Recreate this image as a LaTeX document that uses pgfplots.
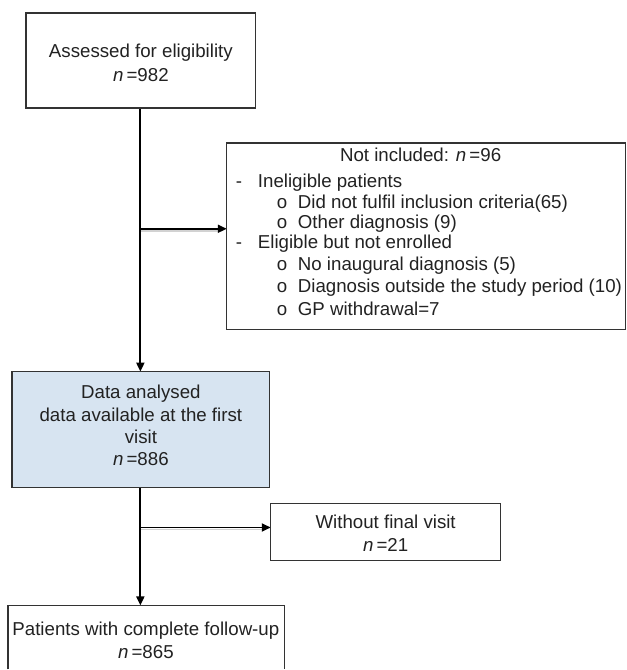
\documentclass[border=0pt]{standalone}
\usepackage{fontspec}
\setmainfont{Liberation Sans}
\usepackage{pgfplots}
\pgfplotsset{compat=1.18}
\usetikzlibrary{arrows.meta}
\definecolor{boxblue}{HTML}{D7E4F1}
\definecolor{boxline}{HTML}{333333}
\definecolor{txt}{HTML}{222222}
\begin{document}
\begin{tikzpicture}
\begin{axis}[
  width=627bp, height=670bp, scale only axis,
  xmin=0, xmax=627, ymin=0, ymax=670, y dir=reverse,
  hide axis, clip=false,
]
\path (axis cs:0,0) rectangle (axis cs:627,670);
\tikzset{
  bx/.style={draw=boxline, line width=1.3bp},
  ar/.style={draw=black, line width=1.8bp, -{Triangle[length=9bp,width=8bp]}},
  sh/.style={draw=gray!35, line width=1.8bp},
  t/.style={font=\fontsize{18.7bp}{22bp}\selectfont, text=txt, inner sep=0pt, anchor=mid},
  tl/.style={t, anchor=mid west},
}
% connectors (drawn first)
\draw[sh] (axis cs:141,231) -- (axis cs:219,231);
\draw[sh] (axis cs:141,530) -- (axis cs:262,530);
\draw[ar] (axis cs:140.5,108) -- (axis cs:140.5,372);
\draw[ar] (axis cs:140.5,229) -- (axis cs:227,229);
\draw[ar] (axis cs:140.5,488) -- (axis cs:140.5,606);
\draw[ar] (axis cs:140.5,528) -- (axis cs:271,528);
% box 1
\draw[bx, fill=white] (axis cs:26,13) rectangle (axis cs:256,108);
\node[t] at (axis cs:141,55) {Assessed for eligibility};
\node[t] at (axis cs:141,79) {\textit{n}\,=982};
% box 2
\draw[bx, fill=white] (axis cs:227,143) rectangle (axis cs:626,330);
\node[t] at (axis cs:421,159) {Not included: \textit{n}\,=96};
\node[tl] at (axis cs:236,185) {-};
\node[tl] at (axis cs:258,185) {Ineligible patients};
\node[tl] at (axis cs:277,206) {o};
\node[tl] at (axis cs:298,206) {Did not fulfil inclusion criteria(65)};
\node[tl] at (axis cs:277,226) {o};
\node[tl] at (axis cs:298,226) {Other diagnosis (9)};
\node[tl] at (axis cs:236,246) {-};
\node[tl] at (axis cs:258,246) {Eligible but not enrolled};
\node[tl] at (axis cs:277,268) {o};
\node[tl] at (axis cs:298,268) {No inaugural diagnosis (5)};
\node[tl] at (axis cs:277,290) {o};
\node[tl] at (axis cs:298,290) {Diagnosis outside the study period (10)};
\node[tl] at (axis cs:277,313) {o};
\node[tl] at (axis cs:298,313) {GP withdrawal=7};
% box 3
\draw[bx, fill=boxblue] (axis cs:12,372) rectangle (axis cs:270,488);
\node[t] at (axis cs:141,396) {Data analysed};
\node[t] at (axis cs:141,419) {data available at the first};
\node[t] at (axis cs:141,441) {visit};
\node[t] at (axis cs:141,463) {\textit{n}\,=886};
% box 4
\draw[bx, fill=white] (axis cs:271,504) rectangle (axis cs:501,561);
\node[t] at (axis cs:386,526) {Without final visit};
\node[t] at (axis cs:386,549) {\textit{n}\,=21};
% box 5 (bottom cut off)
\draw[bx] (axis cs:8,670) -- (axis cs:8,606) -- (axis cs:285,606) -- (axis cs:285,670);
\node[t] at (axis cs:146,633) {Patients with complete follow-up};
\node[t] at (axis cs:146,656) {\textit{n}\,=865};
\end{axis}
\end{tikzpicture}
\end{document}
